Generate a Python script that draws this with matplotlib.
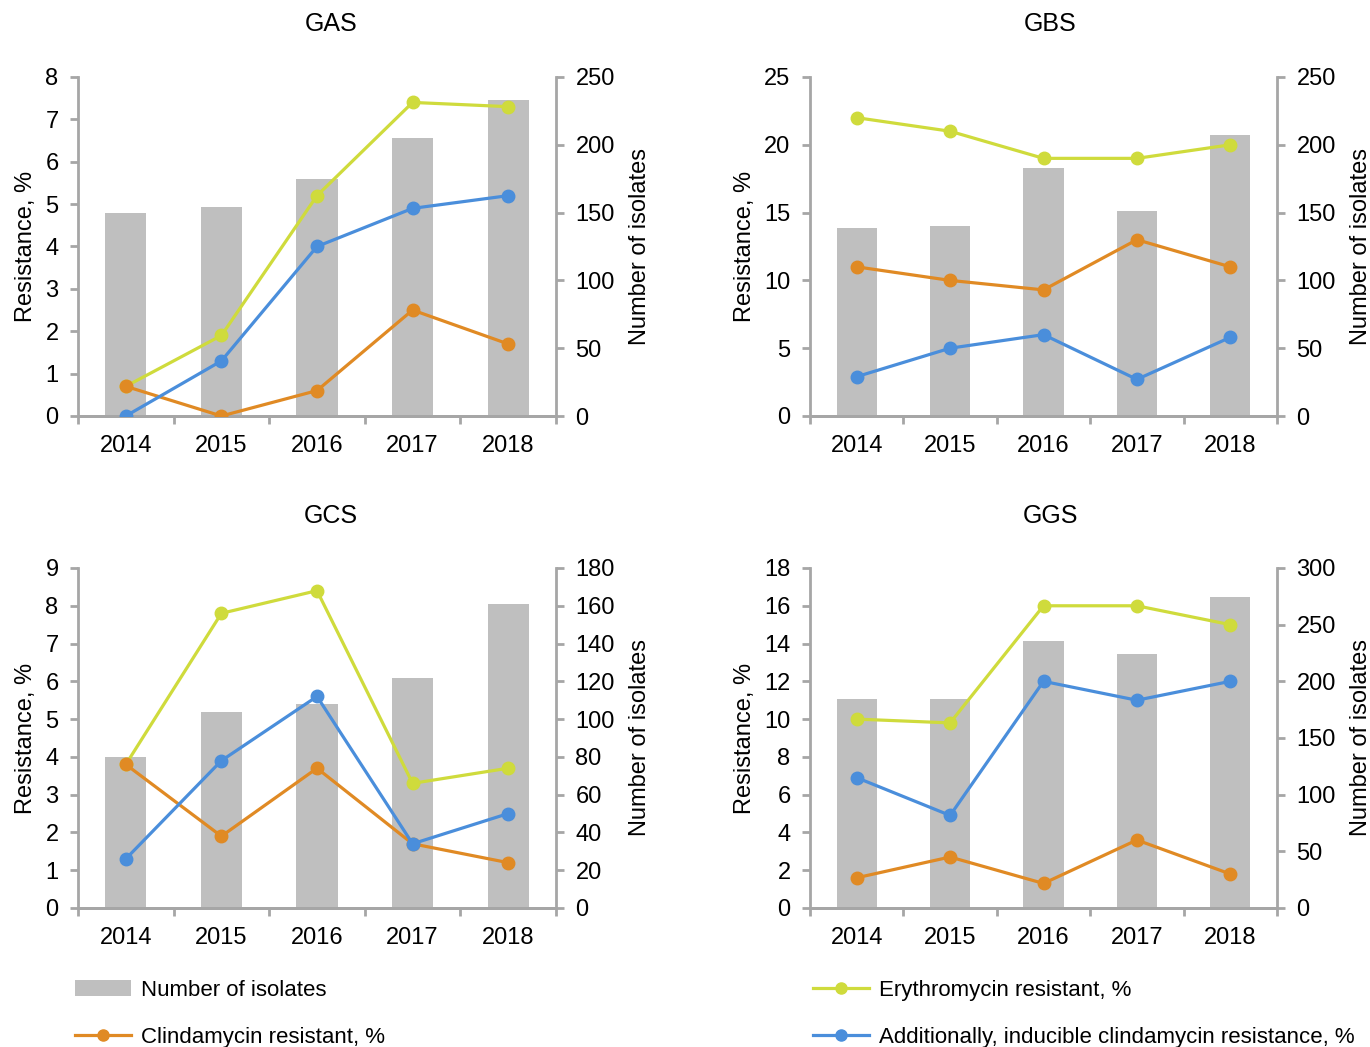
import matplotlib
matplotlib.use("Agg")
import matplotlib.pyplot as plt
from matplotlib.lines import Line2D
from matplotlib.patches import Patch

plt.rcParams['font.family'] = ['Liberation Sans', 'DejaVu Sans']

years = ["2014", "2015", "2016", "2017", "2018"]

# Group A streptococci
gas_isolates = [150, 154, 175, 205, 233]
gas_ery = [0.7, 1.9, 5.2, 7.4, 7.3]
gas_clinda = [0.7, 0.0, 0.6, 2.5, 1.7]
gas_induc = [0.0, 1.3, 4.0, 4.9, 5.2]

# Group B streptococci
gbs_isolates = [139, 140, 183, 151, 207]
gbs_ery = [22, 21, 19, 19, 20]
gbs_clinda = [11, 10, 9.3, 13, 11]
gbs_induc = [2.9, 5.0, 6.0, 2.7, 5.8]

# Group C streptococci
gcs_isolates = [80, 104, 108, 122, 161]
gcs_ery = [3.8, 7.8, 8.4, 3.3, 3.7]
gcs_clinda = [3.8, 1.9, 3.7, 1.7, 1.2]
gcs_induc = [1.3, 3.9, 5.6, 1.7, 2.5]

# Group G streptococci
ggs_isolates = [184, 184, 236, 224, 274]
ggs_ery = [10, 9.8, 16, 16, 15]
ggs_clinda = [1.6, 2.7, 1.3, 3.6, 1.8]
ggs_induc = [6.9, 4.9, 12, 11, 12]

BAR_C = "#bfbfbf"
ERY_C = "#cfdb3c"
CLI_C = "#e08a24"
IND_C = "#4a8edb"
SPINE_C = "#a6a6a6"

W, H = 1370, 1047
fig = plt.figure(figsize=(W / 100, H / 100), dpi=100)


def rect(x0, x1, y0, y1):
    return [x0 / W, 1 - y1 / H, (x1 - x0) / W, (y1 - y0) / H]


panels = [
    ("GAS", 331, 24, rect(78, 556, 77, 416), gas_isolates, gas_ery, gas_clinda, gas_induc, (8, 1), (250, 50)),
    ("GBS", 1050, 24, rect(810, 1277, 77, 416), gbs_isolates, gbs_ery, gbs_clinda, gbs_induc, (25, 5), (250, 50)),
    ("GCS", 331, 516, rect(78, 556, 568, 908), gcs_isolates, gcs_ery, gcs_clinda, gcs_induc, (9, 1), (180, 20)),
    ("GGS", 1050, 516, rect(810, 1277, 568, 908), ggs_isolates, ggs_ery, ggs_clinda, ggs_induc, (18, 2), (300, 50)),
]

FS = 17
x = list(range(len(years)))

for title, tx, ty, pos, iso, ery, cli, ind, (lmax, lstep), (rmax, rstep) in panels:
    ax = fig.add_axes(pos)
    ax2 = ax.twinx()
    # bars on the secondary axis, lines on the primary axis drawn above them
    ax.set_zorder(ax2.get_zorder() + 1)
    ax.patch.set_visible(False)

    ax2.bar(x, iso, width=0.43, color=BAR_C, zorder=1)
    for vals, col in ((ery, ERY_C), (cli, CLI_C), (ind, IND_C)):
        ax.plot(x, vals, color=col, lw=2.3, marker="o", ms=9, zorder=3)

    ax.set_xlim(-0.5, len(years) - 0.5)
    ax.set_ylim(0, lmax)
    ax.set_yticks([i * lstep for i in range(int(lmax / lstep) + 1)])
    ax2.set_ylim(0, rmax)
    ax2.set_yticks([i * rstep for i in range(int(rmax / rstep) + 1)])

    ax.set_xticks([i - 0.5 for i in range(len(years) + 1)])
    ax.set_xticklabels([])
    ax.set_xticks(x, minor=True)
    ax.set_xticklabels(years, minor=True, fontsize=FS)
    ax.tick_params(axis="x", which="minor", length=0, pad=14)
    ax.tick_params(axis="x", which="major", length=6, width=2, color=SPINE_C)
    ax.tick_params(axis="y", length=6, width=2, color=SPINE_C, labelsize=FS, pad=8)
    ax2.tick_params(axis="y", length=6, width=2, color=SPINE_C, labelsize=FS, pad=8)

    for a in (ax, ax2):
        a.spines["top"].set_visible(False)
        for s in ("left", "right", "bottom"):
            a.spines[s].set_color(SPINE_C)
            a.spines[s].set_linewidth(2)
    ax.spines["right"].set_visible(False)
    ax2.spines["left"].set_visible(False)

    ax.set_ylabel("Resistance, %", fontsize=FS, labelpad=6)
    ax2.set_ylabel("Number of isolates", fontsize=FS, labelpad=10)
    fig.text(tx / W, 1 - ty / H, title, ha="center", va="center", fontsize=18)

handles = [
    Patch(facecolor=BAR_C, edgecolor="none"),
    Line2D([], [], color=CLI_C, lw=2.3, marker="o", ms=8),
    Line2D([], [], color=ERY_C, lw=2.3, marker="o", ms=8),
    Line2D([], [], color=IND_C, lw=2.3, marker="o", ms=8),
]
labels = [
    "Number of isolates",
    "Clindamycin resistant, %",
    "Erythromycin resistant, %",
    "Additionally, inducible clindamycin resistance, %",
]
fig.legend(handles, labels, ncol=2, loc="upper left",
           bbox_to_anchor=(75 / W, 1 - 980 / H), frameon=False,
           fontsize=16, handlelength=2.5, handletextpad=0.45,
           columnspacing=19.3, labelspacing=1.18, borderaxespad=0,
           borderpad=0)

fig.savefig("out.png", dpi=100)
